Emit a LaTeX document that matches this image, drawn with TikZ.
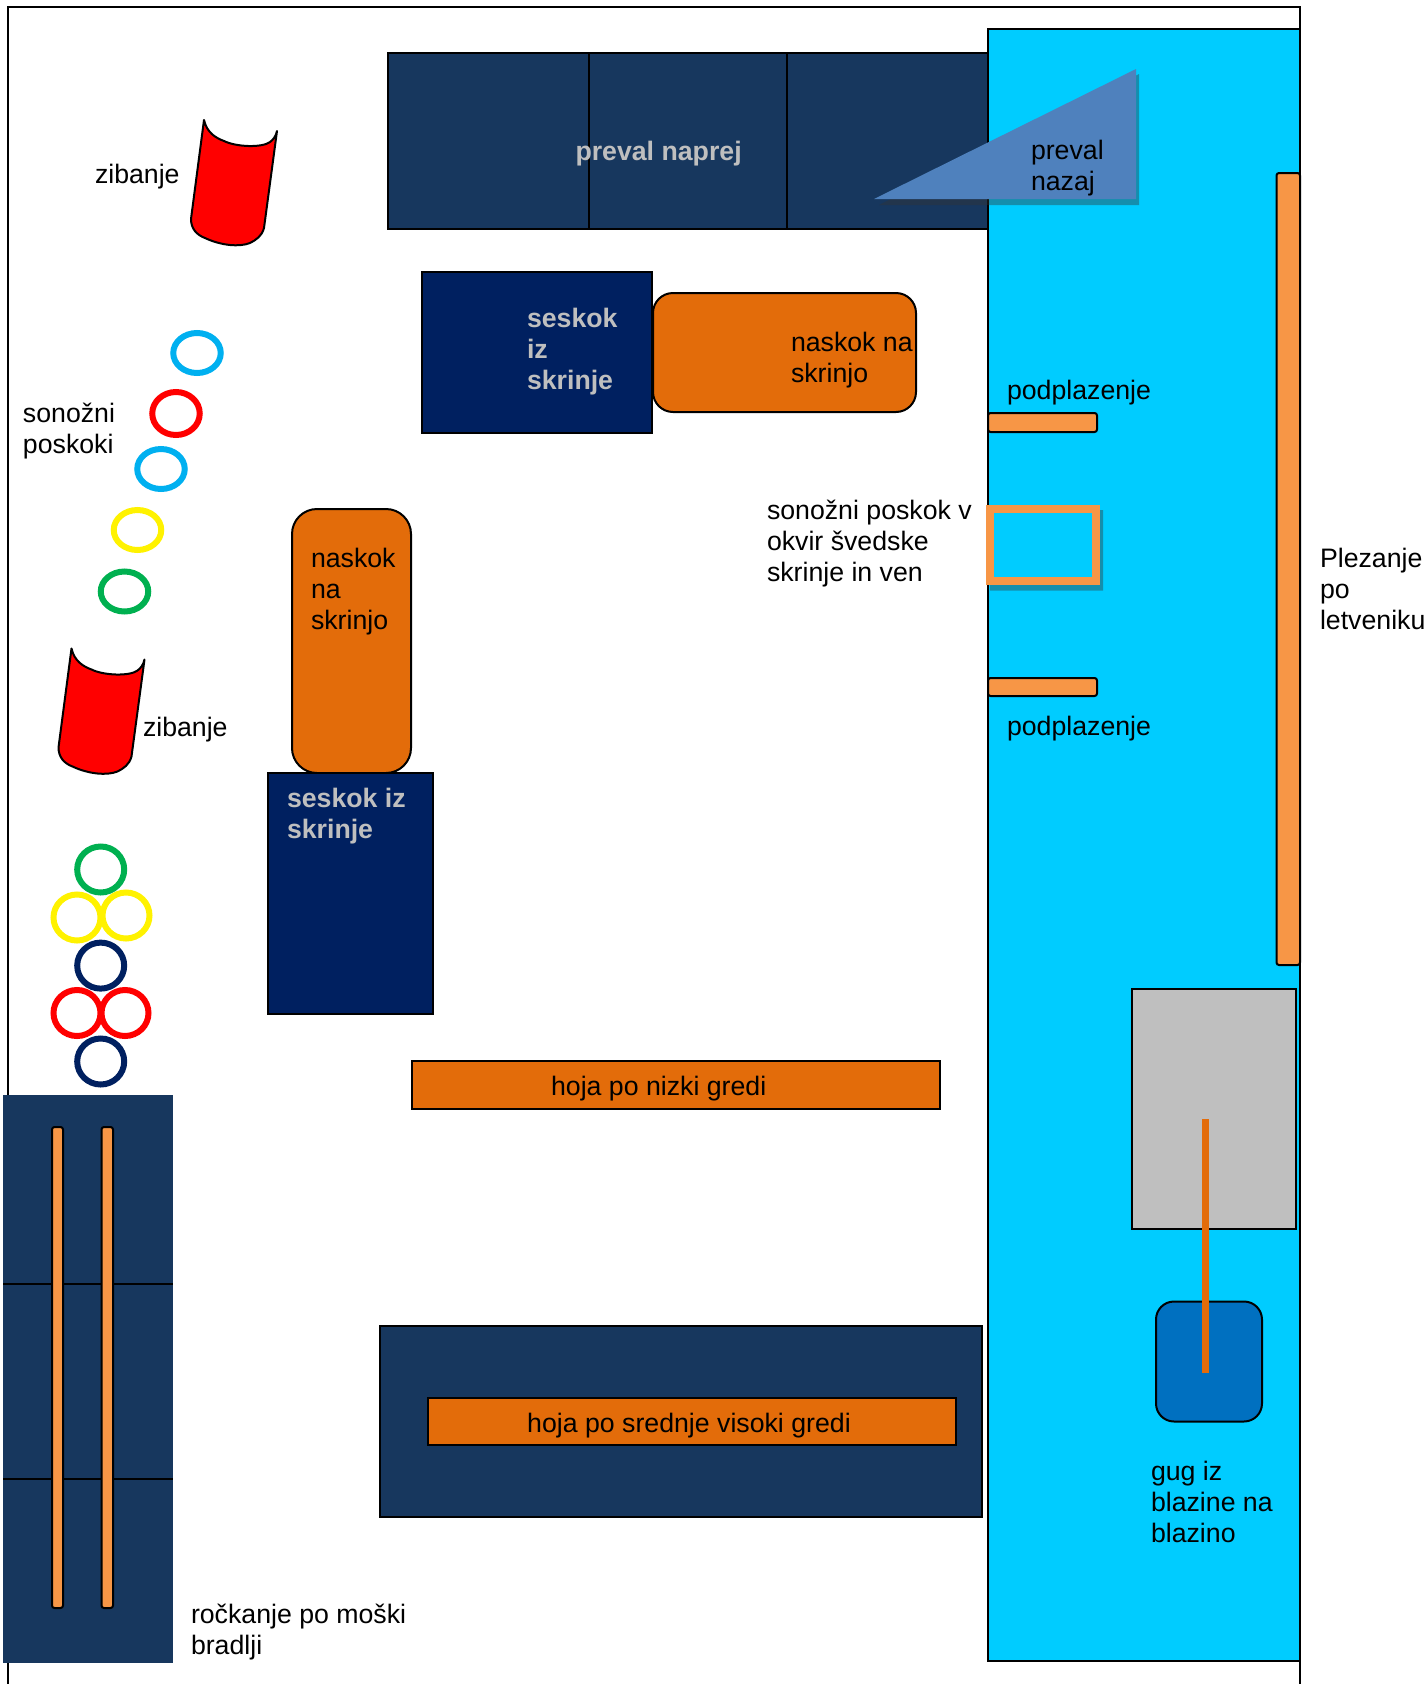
\documentclass[tikz,border=0pt]{standalone}
\usepackage{fontspec}
\setmainfont{Liberation Sans}
\usetikzlibrary{positioning}
\definecolor{cnavy}{HTML}{17375E}
\definecolor{cdeep}{HTML}{002060}
\definecolor{csky}{HTML}{00CCFF}
\definecolor{cring}{HTML}{00B0F0}
\definecolor{cgreen}{HTML}{00B050}
\definecolor{cburnt}{HTML}{E36C0A}
\definecolor{clight}{HTML}{F79646}
\definecolor{cwedge}{HTML}{4F81BD}
\definecolor{cmat}{HTML}{0070C0}
\tikzset{
  every picture/.style={line width=2pt},
  solid box/.style={draw=black, fill=#1},
  rail/.style={draw=black, fill=clight, rounded corners=2.5pt},
  word/.style={font=\fontsize{26.7}{31}\selectfont, align=left, inner sep=0pt, anchor=west},
  pale/.style={word, font=\fontsize{26.7}{31}\selectfont\bfseries, text=black!25},
  shade/.style={fill=black!80, opacity=0.4},
}
\begin{document}
\begin{tikzpicture}[x=1pt, y=-1pt]
  \useasboundingbox (0,0) rectangle (1427,1684);
  % hall outline
  \draw (8,1684) -- (8,7) -- (1300,7) -- (1300,1684);
  % mats at the top
  \draw[solid box=cnavy] (388,53) rectangle (1000,229);
  \draw (589,53) -- (589,229);
  \draw (787,53) -- (787,229);
  \node[pale] (naprej) at (574.5,154) {preval naprej};
  % blue floor area
  \draw[solid box=csky] (988,29) rectangle (1300,1661);
  % wedge
  \fill[shade] (1139,74) -- (1139,205) -- (879,205) -- cycle;
  \fill[cwedge] (874,199) -- (1136,69) -- (1136,199) -- cycle;
  \node[word] (nazaj) at (1030,168) {preval\\nazaj};
  % swinging bars
  \foreach \cx/\cy in {0/0, -132.5/528.5}
    \draw[shift={(\cx,\cy)}, fill=red, line join=round] (204,120) .. controls (207,133) and (216,138) .. (224,141) .. controls (236,147) and (262,148) .. (270,142) .. controls (273,140) and (276,136) .. (277,131) -- (264,228) .. controls (262,236) and (256,240) .. (250,243) .. controls (240,247) and (222,246) .. (205,238) .. controls (197,235) and (191,229) .. (191,219) -- cycle;
  \node[word] (zib1) at (94,177) {zibanje};
  \node[word] (zib2) at (142,730) {zibanje};
  % box jump at the top
  \draw[solid box=cdeep] (422,272) rectangle (652,433);
  \node[pale] (seskok1) at (526,352) {seskok\\iz\\skrinje};
  \draw[solid box=cburnt, rounded corners=20pt] (653,293) rectangle (916,412);
  \node[word] (naskok1) at (790,360.5) {naskok na\\skrinjo};
  % hoops on the left
  \foreach \x/\y/\c/\w/\h in {197/353/cring/47.5/40, 176/413.5/red/47.5/43, 161/469/cring/47.5/40, 137.5/530/yellow/47.5/40, 124.5/591.5/cgreen/47.5/40,
    100.7/869.5/cgreen/47/46, 77/917.5/yellow/47/46, 126/915.5/yellow/47/46, 100.7/965.6/cdeep/47/46, 77/1013/red/47/46, 125/1013/red/47/46, 100.7/1061.5/cdeep/47/46}
    \draw[draw=\c, line width=6pt] (\x,\y) ellipse ({\w/2} and {\h/2});
  \node[word] (poskoki) at (22,431.5) {sonožni\\poskoki};
  % crawl and frame
  \node[word] (plaz1) at (1006,393) {podplazenje};
  \draw[rail] (988,413) rectangle (1097,432);
  \fill[shade] (1100,510) -- (1103,510) -- (1103,590.5) -- (990,590.5) -- (990,585) -- (1100,585) -- cycle;
  \draw[line width=8pt, draw=clight] (990,509) rectangle (1096,581);
  \node[word] (okvir) at (766,544) {sonožni poskok v\\okvir švedske\\skrinje in ven};
  \draw[rail] (988,678) rectangle (1097,696);
  \node[word] (plaz2) at (1006,729) {podplazenje};
  % wall bars
  \draw[rail] (1276.5,173) rectangle (1300,965);
  \node[word] (plez) at (1319,589) {Plezanje\\po\\letveniku};
  % box jump in the middle
  \draw[solid box=cburnt, rounded corners=25pt] (292,509) rectangle (411,773);
  \node[word] (naskok2) at (310,592) {naskok\\na\\skrinjo};
  \draw[solid box=cdeep] (268,773) rectangle (432.5,1013.5);
  \node[pale] (seskok2) at (286,816) {seskok iz\\skrinje};
  % beams
  \draw[solid box=cburnt] (412,1061) rectangle (940,1109);
  \node[word, anchor=center] (nizka) at (658.7,1088.5) {hoja po nizki gredi};
  \draw[solid box=cnavy] (380,1325.5) rectangle (982,1517);
  \draw[solid box=cburnt] (428,1397.5) rectangle (955.6,1445);
  \node[word, anchor=center] (srednja) at (689,1426) {hoja po srednje visoki gredi};
  % parallel bars
  \fill[cnavy] (3,1095) rectangle (173,1663);
  \draw (3,1284) -- (173,1284);
  \draw (3,1478.5) -- (173,1478.5);
  \draw[rail] (52,1127) rectangle (63,1608);
  \draw[rail] (101.5,1127) rectangle (113,1608);
  \node[word] (rock) at (190,1632.5) {ročkanje po moški\\bradlji};
  % swing onto the mat
  \draw[solid box=black!25] (1132,989) rectangle (1296,1229);
  \draw[solid box=cmat, rounded corners=18pt] (1156,1301.5) rectangle (1262,1421.5);
  \draw[draw=cburnt, line width=7pt] (1205.5,1119) -- (1205.5,1373);
  \node[word] (gug) at (1150,1501.5) {gug iz\\blazine na\\blazino};
\end{tikzpicture}
\end{document}
